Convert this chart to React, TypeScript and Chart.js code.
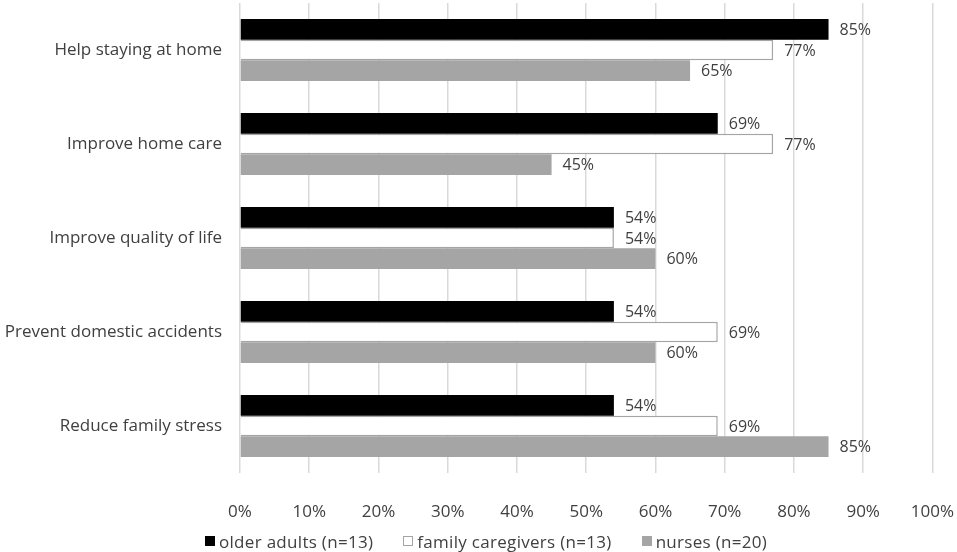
import React, { useEffect, useRef } from "react";
import Chart from "chart.js/auto";

const categories = [
  "Help staying at home",
  "Improve home care",
  "Improve quality of life",
  "Prevent domestic accidents",
  "Reduce family stress",
];
const olderAdults = [85, 69, 54, 54, 54];
const familyCaregivers = [77, 77, 54, 69, 69];
const nurses = [65, 45, 60, 60, 85];
const seriesNames = ["older adults (n=13)", "family caregivers (n=13)", "nurses (n=20)"];
const seriesFill = ["#000000", "#ffffff", "#a5a5a5"];
const seriesBorder = ["#000000", "#a5a5a5", "#a5a5a5"];
const xMin = 0;
const xMax = 100;
const xStep = 10;

const FONT = "'Open Sans', sans-serif";
const TEXT = "#404040";

// value labels at the end of each bar
const barLabels = {
  id: "barLabels",
  afterDatasetsDraw(chart: any) {
    const ctx = chart.ctx;
    ctx.save();
    ctx.font = `16px ${FONT}`;
    ctx.fillStyle = TEXT;
    ctx.textAlign = "left";
    ctx.textBaseline = "middle";
    chart.data.datasets.forEach((ds: any, i: number) => {
      const meta = chart.getDatasetMeta(i);
      meta.data.forEach((el: any, j: number) => {
        ctx.fillText(`${ds.data[j]}%`, el.x + 11, el.y + 1);
      });
    });
    ctx.restore();
  },
};

const App: React.FC = () => {
  const canvasRef = useRef<HTMLCanvasElement | null>(null);
  const chartRef = useRef<Chart | null>(null);

  useEffect(() => {
    if (!canvasRef.current) return;
    if (chartRef.current) chartRef.current.destroy();
    const ctx = canvasRef.current.getContext("2d");
    if (!ctx) return;

    chartRef.current = new Chart(ctx, {
      type: "bar",
      data: {
        labels: categories,
        datasets: seriesNames.map((name, i) => ({
          label: name,
          data: [olderAdults, familyCaregivers, nurses][i],
          backgroundColor: seriesFill[i],
          borderColor: seriesBorder[i],
          borderWidth: i === 1 ? 1.5 : 0,
        })),
      },
      options: {
        indexAxis: "y",
        responsive: false,
        animation: false,
        datasets: {
          bar: {
            categoryPercentage: 0.66,
            barPercentage: 1,
          },
        },
        // bottom padding leaves room for the HTML legend
        layout: { padding: { left: 0, right: 22, top: 3, bottom: 30 } },
        plugins: {
          legend: { display: false },
          tooltip: { enabled: false },
        },
        scales: {
          x: {
            min: xMin,
            max: xMax,
            afterFit: (scale: any) => {
              scale.height = 49;
            },
            grid: {
              color: "#d9d9d9",
              lineWidth: 1.5,
              drawTicks: true,
              tickLength: 26,
              tickColor: "rgba(0,0,0,0)",
            },
            border: { display: false },
            ticks: {
              stepSize: xStep,
              padding: 3,
              maxRotation: 0,
              color: TEXT,
              font: { family: FONT, size: 17 },
              callback: (v: any) => `${v}%`,
            },
          },
          y: {
            afterFit: (scale: any) => {
              scale.width = 240;
              scale.paddingTop = 0;
              scale.paddingBottom = 0;
            },
            grid: { display: false, drawTicks: false },
            border: { display: false },
            ticks: {
              padding: 18,
              color: TEXT,
              font: { family: FONT, size: 17 },
            },
          },
        },
      },
      plugins: [barLabels],
    });

    return () => {
      if (chartRef.current) {
        chartRef.current.destroy();
        chartRef.current = null;
      }
    };
  }, []);

  return (
    <div style={{ position: "fixed", left: 0, top: 0, width: 957, height: 552, background: "#fff" }}>
      <canvas ref={canvasRef} width={957} height={552} style={{ display: "block" }} />
      <div
        style={{
          position: "absolute",
          left: 205,
          top: 530,
          height: 22,
          display: "flex",
          alignItems: "center",
          gap: 30,
          fontFamily: FONT,
          fontSize: 17,
          letterSpacing: 0.3,
          color: TEXT,
          whiteSpace: "nowrap",
        }}
      >
        {seriesNames.map((name, i) => (
          <div key={name} style={{ display: "flex", alignItems: "center" }}>
            <span
              style={{
                display: "inline-block",
                width: 10,
                height: 10,
                boxSizing: "border-box",
                background: seriesFill[i],
                border: `1px solid ${seriesBorder[i]}`,
                marginRight: 4,
              }}
            />
            <span>{name}</span>
          </div>
        ))}
      </div>
    </div>
  );
};

export default App;
